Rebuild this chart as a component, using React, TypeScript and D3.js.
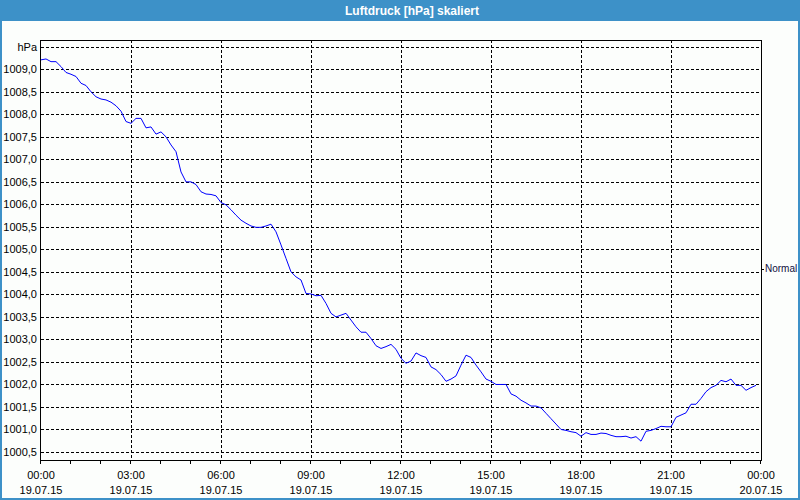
import React from "react";
import * as d3 from "d3";

const title = "Luftdruck [hPa] skaliert";
const unitLabel = "hPa";
const normalLabel = "Normal";
const normalLevel = 1004.57;
const startTime = new Date(2015, 6, 19, 0, 0);
const endTime = new Date(2015, 6, 20, 0, 0);
const stepMinutes = 10;

const pressure = [
  1009.21, 1009.23, 1009.17, 1009.17, 1009.06, 1008.93, 1008.89, 1008.84, 1008.69, 1008.64,
  1008.5, 1008.39, 1008.34, 1008.32, 1008.27, 1008.19, 1008.07, 1007.84, 1007.8, 1007.91,
  1007.91, 1007.7, 1007.72, 1007.56, 1007.61, 1007.5, 1007.32, 1007.17, 1006.72, 1006.5,
  1006.5, 1006.44, 1006.28, 1006.23, 1006.22, 1006.19, 1006.04, 1005.99, 1005.88, 1005.76,
  1005.65, 1005.58, 1005.52, 1005.49, 1005.49, 1005.52, 1005.56, 1005.39, 1005.1, 1004.8,
  1004.5, 1004.39, 1004.32, 1004.02, 1004.01, 1003.97, 1003.98, 1003.8, 1003.58, 1003.5,
  1003.54, 1003.58, 1003.43, 1003.28, 1003.16, 1003.16, 1003.02, 1002.86, 1002.8, 1002.84,
  1002.89, 1002.78, 1002.58, 1002.47, 1002.52, 1002.7, 1002.64, 1002.6, 1002.39, 1002.33,
  1002.22, 1002.07, 1002.12, 1002.19, 1002.43, 1002.65, 1002.6, 1002.43, 1002.28, 1002.12,
  1002.07, 1002.0, 1002.0, 1002.0, 1001.79, 1001.74, 1001.65, 1001.59, 1001.52, 1001.52,
  1001.48, 1001.36, 1001.24, 1001.12, 1001.0, 1000.98, 1000.95, 1000.93, 1000.85, 1000.93,
  1000.89, 1000.89, 1000.92, 1000.91, 1000.87, 1000.84, 1000.84, 1000.85, 1000.81, 1000.84,
  1000.74, 1000.96, 1000.98, 1001.02, 1001.07, 1001.06, 1001.06, 1001.27, 1001.32, 1001.37,
  1001.56, 1001.56, 1001.69, 1001.84, 1001.93, 1001.98, 1002.09, 1002.06, 1002.12, 1001.98,
  1001.98, 1001.87, 1001.93, 1001.98,
];

const yTicks = [
  1000.5, 1001.0, 1001.5, 1002.0, 1002.5, 1003.0, 1003.5, 1004.0, 1004.5,
  1005.0, 1005.5, 1006.0, 1006.5, 1007.0, 1007.5, 1008.0, 1008.5, 1009.0,
];
const unitTick = 1009.5;
const xLabelHours = [0, 3, 6, 9, 12, 15, 18, 21, 24];

const W = 800;
const H = 500;
const plot = { left: 41, right: 761, top: 40, bottom: 460 };
const font = "'Liberation Sans', Arial, sans-serif";

export default function App() {
  const x = d3.scaleTime().domain([startTime, endTime]).range([plot.left, plot.right]);
  const y = d3.scaleLinear().domain([1000.322, 1009.651]).range([plot.bottom, plot.top]);

  const data = pressure.map((v, i) => ({
    t: d3.timeMinute.offset(startTime, i * stepMinutes),
    v,
  }));
  const line = d3
    .line<{ t: Date; v: number }>()
    .x((d) => x(d.t))
    .y((d) => y(d.v));

  const hourTicks = d3.timeHour.range(startTime, d3.timeHour.offset(endTime, 1), 1);
  const labelTicks = xLabelHours.map((h) => d3.timeHour.offset(startTime, h));
  const fmtVal = (v: number) => d3.format(".1f")(v).replace(".", ",");
  const fmtTime = d3.timeFormat("%H:%M");
  const fmtDate = d3.timeFormat("%d.%m.%y");
  const crisp = (v: number) => Math.round(v) + 0.5;

  return (
    <svg
      width={W}
      height={H}
      style={{ position: "absolute", left: 0, top: 0, display: "block" }}
      fontFamily={font}
    >
      <rect x={0} y={0} width={W} height={H} fill="#3d91c8" />
      <rect x={2} y={21} width={W - 4} height={H - 23} fill="#fcfefc" />
      <text
        x={412}
        y={11}
        fill="#ffffff"
        fontSize={12}
        fontWeight="bold"
        textAnchor="middle"
        dominantBaseline="central"
      >
        {title}
      </text>

      {/* horizontal grid */}
      {[...yTicks, unitTick].map((v) => (
        <line
          key={"h" + v}
          x1={plot.left}
          x2={plot.right}
          y1={crisp(y(v))}
          y2={crisp(y(v))}
          stroke="#000"
          strokeDasharray="3,2"
          shapeRendering="crispEdges"
        />
      ))}
      {/* vertical grid */}
      {labelTicks.slice(1, -1).map((t) => (
        <line
          key={"v" + t.getTime()}
          x1={crisp(x(t))}
          x2={crisp(x(t))}
          y1={plot.top}
          y2={plot.bottom}
          stroke="#000"
          strokeDasharray="3,2"
          shapeRendering="crispEdges"
        />
      ))}

      {/* frame */}
      <rect
        x={plot.left - 0.5}
        y={plot.top + 0.5}
        width={plot.right - plot.left + 1}
        height={plot.bottom - plot.top}
        fill="none"
        stroke="#000"
        shapeRendering="crispEdges"
      />

      {/* x ticks */}
      {hourTicks.map((t) => (
        <line
          key={"xt" + t.getTime()}
          x1={crisp(x(t)) - 1}
          x2={crisp(x(t)) - 1}
          y1={plot.bottom}
          y2={plot.bottom + 4}
          stroke="#000"
          shapeRendering="crispEdges"
        />
      ))}
      {labelTicks.map((t) => (
        <g key={"xl" + t.getTime()} fontSize={11} fill="#000" textAnchor="middle">
          <text x={x(t)} y={479}>
            {fmtTime(t)}
          </text>
          <text x={x(t)} y={494}>
            {fmtDate(t)}
          </text>
        </g>
      ))}

      {/* y labels */}
      {yTicks.map((v) => (
        <text
          key={"yl" + v}
          x={37}
          y={y(v)}
          fontSize={11}
          fill="#000"
          textAnchor="end"
          dominantBaseline="central"
        >
          {fmtVal(v)}
        </text>
      ))}
      <text
        x={37}
        y={y(unitTick)}
        fontSize={11}
        fill="#000"
        textAnchor="end"
        dominantBaseline="central"
      >
        {unitLabel}
      </text>

      {/* normal marker */}
      <line
        x1={plot.right}
        x2={plot.right + 3}
        y1={crisp(y(normalLevel))}
        y2={crisp(y(normalLevel))}
        stroke="#000"
        shapeRendering="crispEdges"
      />
      <text
        x={plot.right + 4}
        y={y(normalLevel)}
        fontSize={10}
        fill="#101040"
        dominantBaseline="central"
      >
        {normalLabel}
      </text>

      {/* data line */}
      <path d={line(data) || ""} fill="none" stroke="#0000ff" strokeWidth={1} />
    </svg>
  );
}
